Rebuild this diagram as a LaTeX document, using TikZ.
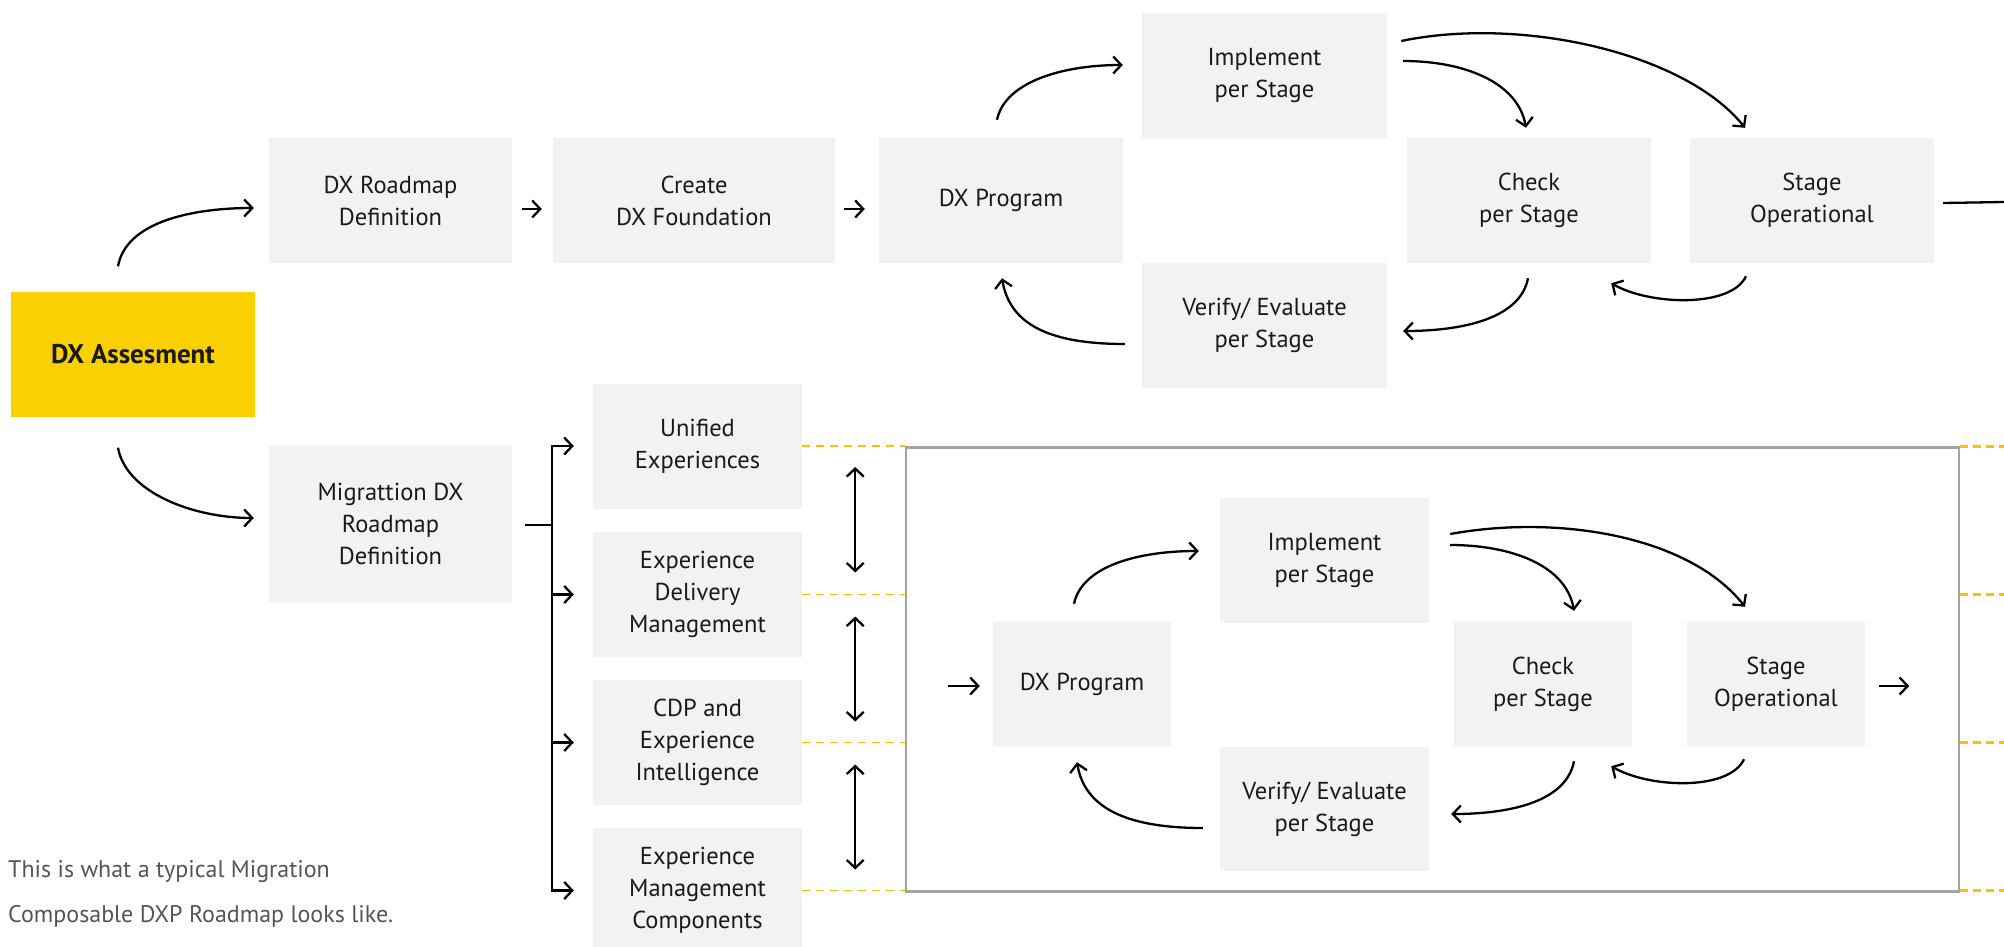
\documentclass[tikz,border=0pt]{standalone}
\usepackage{fontspec}
\setmainfont{PT Sans}
\usetikzlibrary{arrows.meta,calc}
\definecolor{boxgray}{HTML}{F2F2F2}
\definecolor{dxyellow}{HTML}{FBD000}
\definecolor{framegray}{HTML}{A3A3A3}
\definecolor{dashyellow}{HTML}{FAC200}
\definecolor{txt}{HTML}{1A1A1A}
\definecolor{captxt}{HTML}{555555}
\begin{document}
\begin{tikzpicture}[x=1pt,y=-1pt,
  box/.style={fill=boxgray, inner sep=0pt, align=center, text=txt,
    font=\fontsize{24.5}{32}\selectfont, minimum height=125pt},
  arr/.style={line width=2.3pt, black,
    -{Straight Barb[length=8pt,width=17pt,line width=2.3pt]}},
  darr/.style={line width=2.3pt, black,
    {Straight Barb[length=8pt,width=17pt,line width=2.3pt]}-{Straight Barb[length=8pt,width=17pt,line width=2.3pt]}},
  plain/.style={line width=2.3pt, black},
  dashl/.style={dashyellow, line width=1.4pt, dash pattern=on 8pt off 6pt},
  dashr/.style={dashyellow, line width=3pt, dash pattern=on 8pt off 5pt},
]
\useasboundingbox (0,0) rectangle (2004,947);

% ---------- top row ----------
\node[box, fill=dxyellow, minimum width=244pt, font=\fontsize{27}{32}\selectfont\bfseries] (assess) at (133,354) {DX Assesment};
\node[box, minimum width=243pt] (road) at (390.5,200.5) {DX Roadmap\\Definition};
\node[box, minimum width=282pt] (found) at (694,200.5) {Create\\DX Foundation};
\node[box, minimum width=244pt] (dxp) at (1001,200.5) {DX Program};
\node[box, minimum width=245pt] (impl) at (1264.5,75.5) {Implement\\per Stage};
\node[box, minimum width=244pt] (check) at (1529,200.5) {Check\\per Stage};
\node[box, minimum width=244pt] (stage) at (1812,200.5) {Stage\\Operational};
\node[box, minimum width=245pt] (verify) at (1264.5,325.5) {Verify/ Evaluate\\per Stage};
\node[box, minimum width=243pt, minimum height=156pt] (migr) at (390.5,524) {Migrattion DX\\Roadmap\\Definition};

\coordinate (redge) at (2004,202);

\draw[arr] ($(assess.north)+(-15,-25)$) .. controls +(8,-45) and +(-60,0) .. ($(road.west)+(-15,7.5)$);
\draw[arr] ($(assess.south)+(-15,31)$) .. controls +(8,45) and +(-60,0) .. ($(migr.west)+(-15,-6)$);
\draw[arr] ($(road.east)+(10,8.5)$) -- ($(found.west)+(-11,8.5)$);
\draw[arr] ($(found.east)+(9,8.5)$) -- ($(dxp.west)+(-14,8.5)$);
\draw[arr] ($(dxp.north)+(-4,-18)$) .. controls +(8,-38) and +(-60,0) .. ($(impl.west)+(-19,-10.5)$);
\draw[arr] ($(impl.east)+(16,-14.5)$) .. controls +(62,0) and +(-8,-45) .. ($(check.north)+(-3,-10)$);
\draw[arr] ($(impl.east)+(14,-34.5)$) .. controls +(120,-25) and +(-60,-75) .. ($(stage.north)+(-67,-10)$);
\draw[arr] ($(check.south)+(-1,15)$) .. controls +(-8,42) and +(55,0) .. ($(verify.east)+(16,5.5)$);
\draw[arr] ($(stage.south)+(-66,13)$) .. controls +(-15,32) and +(38,22) .. ($(check.south east)+(-40,20)$);
\draw[arr] ($(verify.west)+(-17,18.5)$) .. controls +(-72,0) and +(8,48) .. ($(dxp.south)+(1,15)$);
\draw[plain] ($(stage.east)+(9,2.5)$) -- (redge);

% ---------- left column ----------
\node[box, minimum width=209pt] (uni) at (697.5,446) {Unified\\Experiences};
\node[box, minimum width=209pt] (edm) at (697.5,594.5) {Experience\\Delivery\\Management};
\node[box, minimum width=209pt] (cdp) at (697.5,742.5) {CDP and\\Experience\\Intelligence};
\node[box, minimum width=209pt] (emc) at (697.5,890.5) {Experience\\Management\\Components};

\coordinate (bk) at (552,525);
\draw[plain] ($(migr.east)+(13,1)$) -- (bk);
\draw[arr] (bk) |- ($(uni.west)+(-19,0)$);
\draw[arr] (bk) |- ($(edm.west)+(-19,0)$);
\draw[arr] (bk) |- ($(cdp.west)+(-19,0)$);
\draw[arr] (bk) |- ($(emc.west)+(-19,0)$);

\draw[darr] ($(uni.east)+(53,21)$) -- ($(edm.east)+(53,-22)$);
\draw[darr] ($(edm.east)+(53,22)$) -- ($(cdp.east)+(53,-21)$);
\draw[darr] ($(cdp.east)+(53,22)$) -- ($(emc.east)+(53,-21)$);

% ---------- frame ----------
\node[draw=framegray, line width=2.8pt, minimum width=1053pt, minimum height=444pt, inner sep=0pt] (frame) at (1432.5,669.5) {};

\foreach \b in {uni,edm,cdp,emc}{
  \draw[dashl] (\b.east) -- (\b.east -| frame.west);
  \draw[dashr] (\b.east -| frame.east) -- (\b.east -| redge);
}

% ---------- inner cycle ----------
\node[box, minimum width=178pt, minimum height=124pt] (idxp) at (1082,684) {DX Program};
\node[box, minimum width=209pt] (iimpl) at (1324.5,560.5) {Implement\\per Stage};
\node[box, minimum width=178pt, minimum height=124pt] (icheck) at (1543,684) {Check\\per Stage};
\node[box, minimum width=178pt, minimum height=124pt] (istage) at (1776,684) {Stage\\Operational};
\node[box, minimum width=209pt, minimum height=124pt] (iverify) at (1324.5,809) {Verify/ Evaluate\\per Stage};

\draw[arr] ($(idxp.west)+(-45,2)$) -- ($(idxp.west)+(-13,2)$);
\draw[arr] ($(istage.east)+(14,2)$) -- ($(istage.east)+(44,2)$);
\draw[arr] ($(idxp.north)+(-8,-18)$) .. controls +(8,-38) and +(-60,0) .. ($(iimpl.west)+(-21,-9.5)$);
\draw[arr] ($(iimpl.east)+(21,-15.5)$) .. controls +(62,0) and +(-8,-45) .. ($(icheck.north)+(31,-11)$);
\draw[arr] ($(iimpl.east)+(21,-26.5)$) .. controls +(110,-20) and +(-55,-70) .. ($(istage.north)+(-31,-15)$);
\draw[arr] ($(icheck.south)+(31,15)$) .. controls +(-8,42) and +(55,0) .. ($(iverify.east)+(22,5)$);
\draw[arr] ($(istage.south)+(-32,13)$) .. controls +(-15,32) and +(38,22) .. ($(icheck.south east)+(-21,20)$);
\draw[arr] ($(iverify.west)+(-17,19)$) .. controls +(-72,0) and +(8,48) .. ($(idxp.south)+(-5,16)$);

% ---------- caption ----------
\node[anchor=west, align=left, inner sep=0pt, text=captxt, font=\fontsize{24}{45}\selectfont] (cap) at (8,894) {This is what a typical Migration\\Composable DXP Roadmap looks like.};
\end{tikzpicture}
\end{document}
